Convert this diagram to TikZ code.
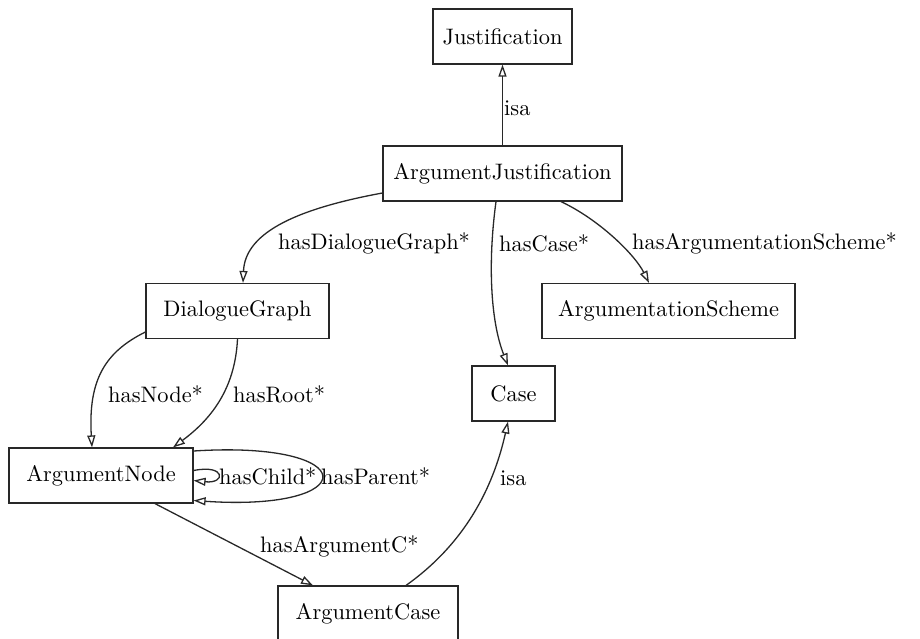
\documentclass[tikz,border=0pt]{standalone}
\usepackage{fontspec}
\setmainfont{lmroman10-regular}[Extension=.otf]
\usetikzlibrary{arrows.meta}
\definecolor{edgecol}{RGB}{40,40,40}
\tikzset{
  cls/.style={draw=edgecol, line width=1.2pt, rectangle, minimum height=55pt, inner sep=0pt, font=\fontsize{22.4}{26}\selectfont},
  lbl/.style={inner sep=0pt, anchor=west, font=\fontsize{22.4}{26}\selectfont},
  rel/.style={draw=edgecol, line width=1.3pt, -{Triangle[open, length=12pt, width=8pt]}}
}
\begin{document}
\begin{tikzpicture}[x=1pt,y=-1pt]
\useasboundingbox (0,0) rectangle (920,638);
\node[cls, minimum width=139pt] (j) at (502.5,36.5) {Justification};
\node[cls, minimum width=239pt] (aj) at (502.5,173.5) {ArgumentJustification};
\node[cls, minimum width=183pt] (dg) at (237.5,311) {DialogueGraph};
\node[cls, minimum width=253pt] (as) at (668.5,311) {ArgumentationScheme};
\node[cls, minimum width=83pt] (case) at (513.5,393.5) {Case};
\node[cls, minimum width=184pt] (an) at (101,475.5) {ArgumentNode};
\node[cls, minimum width=180pt] (ac) at (368,613.5) {ArgumentCase};

\draw[rel] (aj.north) -- (j.south);
\node[lbl] (l1) at (504,108) {isa};

\draw[rel] ([yshift=-19.5pt]aj.west) .. controls (290,210) and (245,235) .. ([xshift=5.5pt]dg.north);
\node[lbl] (l2) at (278,243) {hasDialogueGraph*};

\draw[rel] ([xshift=-6.5pt]aj.south) .. controls (488,260) and (490,320) .. ([xshift=-5.5pt]case.north);
\node[lbl] (l3) at (499,243) {hasCase*};

\draw[rel] ([xshift=58.5pt]aj.south) .. controls (600,220) and (635,255) .. ([xshift=-19.5pt]as.north);
\node[lbl] (l4) at (632,243) {hasArgumentationScheme*};

\draw[rel] ([yshift=-21pt]dg.west) .. controls (105,352) and (88,380) .. ([xshift=-9pt]an.north);
\node[lbl] (l5) at (108,394) {hasNode*};

\draw[rel] (dg.south) .. controls (235,390) and (210,420) .. ([xshift=72pt]an.north);
\node[lbl] (l6) at (233,394) {hasRoot*};

\draw[rel] ([yshift=5pt]an.east) .. controls (226,464) and (226,484) .. ([yshift=-5pt]an.east);
\node[lbl] (l7) at (219,476) {hasChild*};

\draw[rel] ([yshift=24.5pt]an.east) .. controls (364,440) and (364,512) .. ([yshift=-25pt]an.east);
\node[lbl] (l8) at (321,476) {hasParent*};

\draw[rel] ([xshift=54pt]an.south) -- ([xshift=-55pt]ac.north);
\node[lbl] (l9) at (260,546) {hasArgumentC*};

\draw[rel] ([xshift=38pt]ac.north) .. controls (470,540) and (495,480) .. ([xshift=-5.5pt]case.south);
\node[lbl] (l10) at (500,478) {isa};
\end{tikzpicture}
\end{document}
